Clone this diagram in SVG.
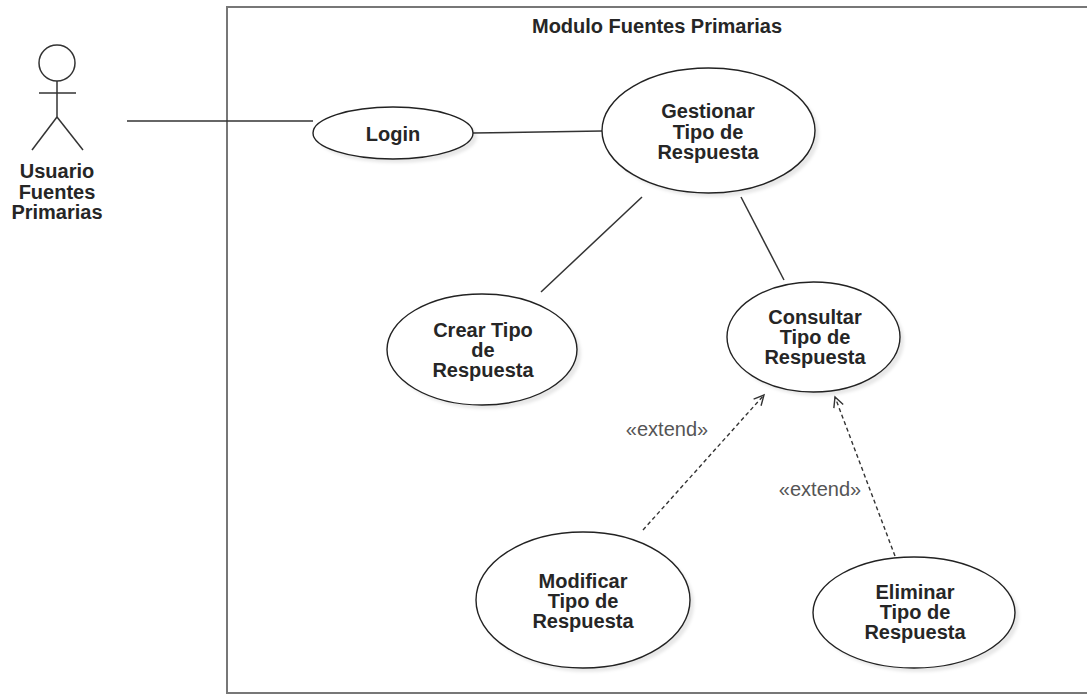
<svg xmlns="http://www.w3.org/2000/svg" width="1087" height="696" viewBox="0 0 1087 696">
<defs>
<style>
.uc{fill:#ffffff;stroke:#222222;stroke-width:1.4}
.sh{fill:#000000;fill-opacity:0.09;filter:url(#blur)}
.lbl{font-family:"Liberation Sans",Arial,sans-serif;font-size:20px;font-weight:bold;fill:#262626;text-anchor:middle}
.ext{font-family:"Liberation Sans",Arial,sans-serif;font-size:20px;fill:#555555;text-anchor:middle}
.assoc{stroke:#333333;stroke-width:1.5;fill:none}
.dep{stroke:#333333;stroke-width:1.4;fill:none;stroke-dasharray:4 3}
.actor{stroke:#333333;stroke-width:1.5;fill:#ffffff}
</style>
<filter id="blur" x="-20%" y="-20%" width="140%" height="140%"><feGaussianBlur stdDeviation="1.5"/></filter>
<marker id="open" markerUnits="userSpaceOnUse" markerWidth="14" markerHeight="14" refX="11" refY="6" orient="auto">
<path d="M1,1 L11,6 L1,11" fill="none" stroke="#333333" stroke-width="1.4"/>
</marker>
</defs>
<rect width="1087" height="696" fill="#ffffff"/>

<g id="frame">
<rect x="227" y="7" width="864" height="686" fill="none" stroke="#777777" stroke-width="2"/>
<text class="lbl" x="657" y="33">Modulo Fuentes Primarias</text>
</g>

<g id="connectors">
<line class="assoc" x1="127" y1="121" x2="313" y2="121"/>
<line class="assoc" x1="473" y1="133" x2="602" y2="131"/>
<line class="assoc" x1="642" y1="197" x2="541" y2="292"/>
<line class="assoc" x1="741" y1="197" x2="784" y2="280"/>
<line class="dep" x1="643" y1="530" x2="764" y2="395" marker-end="url(#open)"/>
<line class="dep" x1="895" y1="556" x2="835" y2="397" marker-end="url(#open)"/>
<text class="ext" x="667" y="436">«extend»</text>
<text class="ext" x="820" y="496">«extend»</text>
</g>

<g id="actor">
<circle class="actor" cx="57" cy="63" r="18"/>
<line class="actor" x1="57" y1="81" x2="57" y2="117"/>
<line class="actor" x1="39" y1="93" x2="76" y2="93"/>
<line class="actor" x1="57" y1="117" x2="32" y2="150"/>
<line class="actor" x1="57" y1="117" x2="83" y2="150"/>
<text class="lbl" x="57" y="178">Usuario</text>
<text class="lbl" x="57" y="198.5">Fuentes</text>
<text class="lbl" x="57" y="219">Primarias</text>
</g>

<g id="login">
<ellipse class="sh" cx="397" cy="137" rx="80" ry="26"/>
<ellipse class="uc" cx="393" cy="133" rx="80" ry="26"/>
<text class="lbl" x="393" y="141">Login</text>
</g>

<g id="gestionar">
<ellipse class="sh" cx="712.5" cy="134.5" rx="106.5" ry="62.5"/>
<ellipse class="uc" cx="708.5" cy="130.5" rx="106.5" ry="62.5"/>
<text class="lbl" x="708" y="118">Gestionar</text>
<text class="lbl" x="708" y="139">Tipo de</text>
<text class="lbl" x="708" y="159">Respuesta</text>
</g>

<g id="crear">
<ellipse class="sh" cx="486" cy="353.5" rx="95" ry="55.5"/>
<ellipse class="uc" cx="482" cy="349.5" rx="95" ry="55.5"/>
<text class="lbl" x="483" y="337">Crear Tipo</text>
<text class="lbl" x="483" y="357">de</text>
<text class="lbl" x="483" y="377">Respuesta</text>
</g>

<g id="consultar">
<ellipse class="sh" cx="817.5" cy="341" rx="86.5" ry="55"/>
<ellipse class="uc" cx="813.5" cy="337" rx="86.5" ry="55"/>
<text class="lbl" x="815" y="324">Consultar</text>
<text class="lbl" x="815" y="344">Tipo de</text>
<text class="lbl" x="815" y="364">Respuesta</text>
</g>

<g id="modificar">
<ellipse class="sh" cx="587" cy="604" rx="107" ry="68"/>
<ellipse class="uc" cx="583" cy="600" rx="107" ry="68"/>
<text class="lbl" x="583" y="588">Modificar</text>
<text class="lbl" x="583" y="608">Tipo de</text>
<text class="lbl" x="583" y="628">Respuesta</text>
</g>

<g id="eliminar">
<ellipse class="sh" cx="918" cy="616.5" rx="101" ry="55.5"/>
<ellipse class="uc" cx="914" cy="612.5" rx="101" ry="55.5"/>
<text class="lbl" x="915" y="599">Eliminar</text>
<text class="lbl" x="915" y="619">Tipo de</text>
<text class="lbl" x="915" y="639">Respuesta</text>
</g>
</svg>
